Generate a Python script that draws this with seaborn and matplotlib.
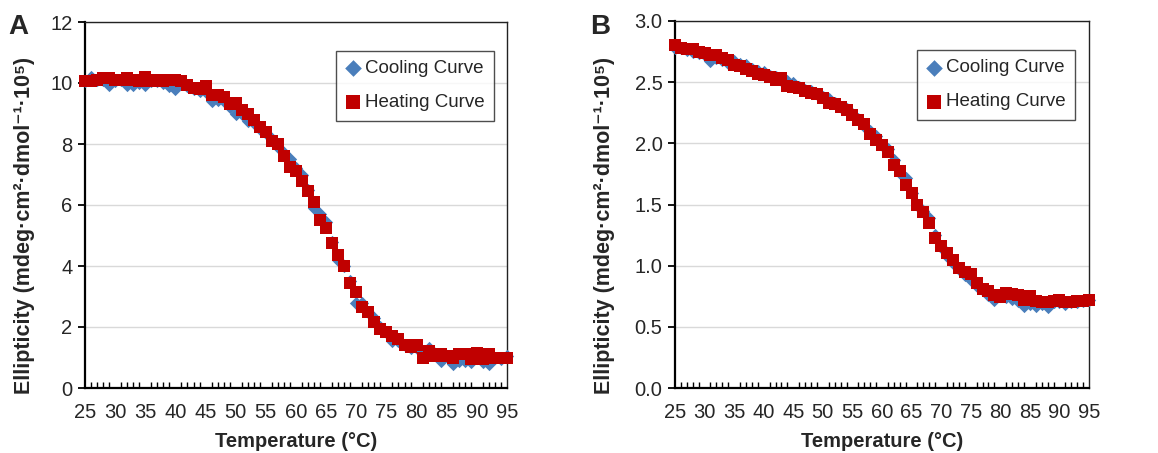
import numpy as np
import pandas as pd
import matplotlib
matplotlib.use("Agg")
import matplotlib.pyplot as plt
import seaborn as sns
from matplotlib.ticker import MultipleLocator

# ---------------- data ----------------
temps = list(range(25, 96))

heat_A = [10.05, 10.05, 10.10, 10.15, 10.15, 10.10, 10.10, 10.15, 10.10, 10.05,
          10.20, 10.05, 10.10, 10.05, 10.10, 10.10, 10.05, 9.95, 9.85, 9.80,
          9.90, 9.60, 9.60, 9.55, 9.30, 9.35, 9.10, 9.00, 8.80, 8.55,
          8.40, 8.10, 8.00, 7.60, 7.25, 7.10, 6.80, 6.45, 6.10, 5.50,
          5.25, 4.75, 4.35, 4.00, 3.45, 3.15, 2.65, 2.50, 2.15, 1.95,
          1.85, 1.70, 1.60, 1.40, 1.35, 1.40, 1.00, 1.20, 1.05, 1.10,
          1.05, 1.00, 1.10, 1.10, 0.95, 1.15, 0.95, 1.10, 1.00, 1.00,
          1.00]
cool_A = [10.05, 10.20, 10.10, 10.10, 9.95, 10.05, 10.10, 9.95, 9.95, 10.00,
          9.95, 10.05, 10.05, 10.00, 9.90, 9.80, 10.00, 9.90, 9.80, 9.75,
          9.70, 9.40, 9.45, 9.40, 9.20, 9.00, 9.00, 8.75, 8.70, 8.50,
          8.35, 8.15, 7.90, 7.70, 7.50, 7.20, 7.00, 6.50, 5.90, 5.70,
          5.45, 4.80, 4.20, 4.00, 3.50, 2.80, 2.80, 2.50, 2.30, 2.00,
          1.85, 1.55, 1.55, 1.40, 1.30, 1.30, 1.15, 1.30, 1.10, 0.90,
          1.05, 0.80, 0.90, 0.90, 0.85, 1.00, 0.85, 0.80, 1.00, 0.95,
          1.05]

heat_B = [2.80, 2.78, 2.77, 2.77, 2.75, 2.74, 2.72, 2.72, 2.70, 2.68,
          2.64, 2.63, 2.61, 2.59, 2.57, 2.56, 2.54, 2.52, 2.53, 2.47,
          2.46, 2.45, 2.43, 2.41, 2.40, 2.37, 2.33, 2.32, 2.30, 2.27,
          2.23, 2.19, 2.16, 2.08, 2.03, 1.99, 1.93, 1.82, 1.77, 1.66,
          1.59, 1.50, 1.44, 1.35, 1.23, 1.16, 1.10, 1.05, 0.98, 0.95,
          0.93, 0.86, 0.81, 0.79, 0.76, 0.74, 0.78, 0.77, 0.76, 0.72,
          0.75, 0.71, 0.70, 0.70, 0.71, 0.72, 0.70, 0.70, 0.71, 0.71,
          0.72]
cool_B = [2.78, 2.78, 2.76, 2.75, 2.74, 2.72, 2.67, 2.70, 2.68, 2.66,
          2.67, 2.65, 2.64, 2.61, 2.59, 2.58, 2.55, 2.54, 2.52, 2.51,
          2.49, 2.46, 2.44, 2.43, 2.40, 2.38, 2.36, 2.33, 2.30, 2.28,
          2.24, 2.20, 2.14, 2.10, 2.06, 1.99, 1.95, 1.86, 1.76, 1.72,
          1.59, 1.50, 1.45, 1.39, 1.25, 1.15, 1.08, 1.02, 0.97, 0.92,
          0.88, 0.83, 0.80, 0.76, 0.72, 0.75, 0.74, 0.73, 0.71, 0.67,
          0.69, 0.67, 0.69, 0.66, 0.70, 0.70, 0.69, 0.70, 0.70, 0.71,
          0.72]

x_ticks = list(range(25, 96, 5))
ylim_A, ystep_A = (0, 12), 2
ylim_B, ystep_B = (0, 3.0), 0.5

series_names = ["Cooling Curve", "Heating Curve"]
ylabel = "Ellipticity (mdeg·cm²·dmol⁻¹·10⁵)"
xlabel = "Temperature (°C)"

# ---------------- style ----------------
sns.set_style("white")
plt.rcParams["font.family"] = ["Liberation Sans", "DejaVu Sans"]

BLUE = "#4A7EBB"
RED = "#C00000"

fig = plt.figure(figsize=(11.58, 4.53), dpi=100)
axA = fig.add_axes([85 / 1158, 1 - 388 / 453, 422 / 1158, 366 / 453])
axB = fig.add_axes([675 / 1158, 1 - 388 / 453, 414 / 1158, 367 / 453])


def draw(ax, cool, heat, ylim, ystep, fmt, legend_anchor, ylab_xy):
    dfc = pd.DataFrame({"T": temps, "E": cool})
    dfh = pd.DataFrame({"T": temps, "E": heat})
    sns.scatterplot(data=dfc, x="T", y="E", color=BLUE, marker="D", s=46,
                    linewidth=0, ax=ax, zorder=3, clip_on=False,
                    label=series_names[0])
    sns.scatterplot(data=dfh, x="T", y="E", color=RED, marker="s", s=72,
                    linewidth=0, ax=ax, zorder=4, clip_on=False,
                    label=series_names[1])
    ax.set_xlim(25, 95)
    ax.set_ylim(*ylim)
    ax.set_xticks(x_ticks)
    ax.xaxis.set_minor_locator(MultipleLocator(1))
    ax.yaxis.set_major_locator(MultipleLocator(ystep))
    ax.yaxis.set_major_formatter(plt.FormatStrFormatter(fmt))
    ax.grid(axis="y", color="#D9D9D9", linewidth=1.0, zorder=0)
    ax.set_axisbelow(True)
    ax.tick_params(axis="x", which="major", direction="inout", length=8,
                   width=1.3, color="black", labelsize=14.5, pad=7)
    ax.tick_params(axis="x", which="minor", direction="in", length=4,
                   width=1.0, color="black", bottom=True)
    ax.tick_params(axis="y", which="major", direction="out", length=5,
                   width=1.3, color="black", labelsize=14.5, left=True, pad=4)
    for s in ["left", "bottom"]:
        ax.spines[s].set_color("black")
        ax.spines[s].set_linewidth(1.6)
    for s in ["top", "right"]:
        ax.spines[s].set_color("#222222")
        ax.spines[s].set_linewidth(1.0)
    ax.set_xlabel(xlabel, fontsize=14.5, fontweight="bold", labelpad=7)
    ax.set_ylabel(ylabel, fontsize=15.5, fontweight="bold")
    ax.yaxis.set_label_coords(*ylab_xy)
    leg = ax.legend(loc="upper right", bbox_to_anchor=legend_anchor,
                    borderaxespad=0, fontsize=13.5, frameon=True,
                    fancybox=False, edgecolor="#222222", labelspacing=0.9,
                    handletextpad=0.25, handlelength=0.8, borderpad=0.5,
                    markerscale=1.25)
    leg.get_frame().set_linewidth(1.0)


draw(axA, cool_A, heat_A, ylim_A, ystep_A, "%d", (0.969, 0.921), (-0.118, 0.443))
draw(axB, cool_B, heat_B, ylim_B, ystep_B, "%.1f", (0.966, 0.921), (-0.145, 0.443))

fig.text(8 / 1158, 1 - 27 / 453, "A", fontsize=20, fontweight="bold", va="center")
fig.text(590 / 1158, 1 - 27 / 453, "B", fontsize=20, fontweight="bold", va="center")

fig.savefig("out.png", dpi=100)
